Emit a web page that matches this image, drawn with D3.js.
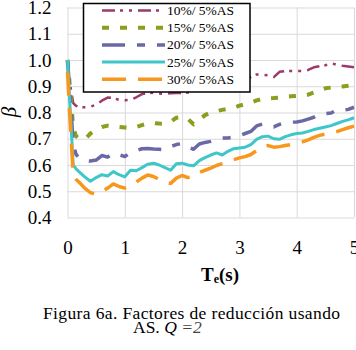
<!DOCTYPE html>
<html>
<head>
<meta charset="utf-8">
<script src="https://cdn.jsdelivr.net/npm/d3@7"></script>
<style>
  body { margin: 0; background: #fff; }
  svg text { font-family: "Liberation Serif", "Times New Roman", serif; }
</style>
</head>
<body>
<div id="chart"></div>
<script>
// periodo Te (s)
var periods = [0, 0.05, 0.1, 0.15, 0.2, 0.3, 0.4, 0.5, 0.6, 0.7, 0.8, 0.9, 1.0,
    1.1, 1.2, 1.3, 1.4, 1.5, 1.6, 1.7, 1.8, 1.9, 2.0, 2.1, 2.2, 2.3, 2.4, 2.5,
    2.6, 2.7, 2.8, 2.9, 3.0, 3.1, 3.2, 3.3, 3.4, 3.5, 3.6, 3.7, 3.8, 3.9, 4.0,
    4.1, 4.2, 4.3, 4.4, 4.5, 4.6, 4.7, 4.8, 4.9, 5.0];

var seriesNames = ["10%/ 5%AS", "15%/ 5%AS", "20%/ 5%AS", "25%/ 5%AS", "30%/ 5%AS"];

var beta10 = [1.0, 0.9, 0.836, 0.825, 0.821, 0.82, 0.822, 0.83, 0.845, 0.857, 0.855, 0.848, 0.847,
    0.848, 0.858, 0.87, 0.874, 0.875, 0.872, 0.871, 0.873, 0.874, 0.874, 0.876, 0.88, 0.886, 0.892, 0.898,
    0.903, 0.908, 0.914, 0.92, 0.925, 0.93, 0.935, 0.945, 0.944, 0.942, 0.935, 0.955, 0.958, 0.958, 0.958,
    0.958, 0.962, 0.972, 0.976, 0.98, 0.988, 0.982, 0.978, 0.975, 0.972];
var beta15 = [1.0, 0.88, 0.74, 0.71, 0.70, 0.697, 0.72, 0.735, 0.745, 0.75, 0.748, 0.745, 0.743,
    0.742, 0.745, 0.752, 0.758, 0.76, 0.758, 0.757, 0.765, 0.78, 0.783, 0.776, 0.755, 0.772, 0.79, 0.80,
    0.805, 0.81, 0.814, 0.818, 0.826, 0.832, 0.838, 0.846, 0.852, 0.854, 0.855, 0.857, 0.86, 0.862, 0.863,
    0.865, 0.868, 0.876, 0.885, 0.892, 0.895, 0.897, 0.899, 0.902, 0.905];
var beta20 = [1.0, 0.85, 0.68, 0.64, 0.627, 0.617, 0.615, 0.619, 0.636, 0.63, 0.645, 0.64, 0.632,
    0.648, 0.655, 0.662, 0.663, 0.661, 0.66, 0.658, 0.67, 0.678, 0.682, 0.668, 0.66, 0.68, 0.686, 0.69,
    0.697, 0.703, 0.703, 0.706, 0.712, 0.72, 0.728, 0.749, 0.756, 0.752, 0.745, 0.755, 0.762, 0.763, 0.764,
    0.768, 0.775, 0.782, 0.794, 0.796, 0.798, 0.81, 0.808, 0.812, 0.82];
var beta25 = [1.0, 0.80, 0.60, 0.585, 0.575, 0.555, 0.538, 0.552, 0.563, 0.558, 0.575, 0.563, 0.555,
    0.58, 0.578, 0.59, 0.603, 0.607, 0.60, 0.59, 0.58, 0.605, 0.607, 0.60, 0.597, 0.617, 0.628, 0.638,
    0.646, 0.638, 0.652, 0.662, 0.665, 0.668, 0.678, 0.698, 0.708, 0.71, 0.70, 0.698, 0.708, 0.715, 0.72,
    0.722, 0.728, 0.735, 0.74, 0.745, 0.75, 0.758, 0.766, 0.772, 0.78];
var beta30 = [0.955, 0.75, 0.56, 0.545, 0.535, 0.512, 0.495, 0.488, 0.50, 0.512, 0.528, 0.518, 0.512,
    0.52, 0.535, 0.55, 0.562, 0.556, 0.545, 0.532, 0.53, 0.55, 0.56, 0.552, 0.555, 0.572, 0.58, 0.588,
    0.598, 0.605, 0.612, 0.62, 0.627, 0.632, 0.64, 0.655, 0.67, 0.674, 0.668, 0.67, 0.674, 0.678, 0.682,
    0.688, 0.696, 0.705, 0.713, 0.718, 0.722, 0.727, 0.735, 0.742, 0.748];

var xTicks = [0, 1, 2, 3, 4, 5];
var yTicks = [0.4, 0.5, 0.6, 0.7, 0.8, 0.9, 1.0, 1.1, 1.2];

var allBeta = [beta10, beta15, beta20, beta25, beta30];
var colors = ["#9b3a6b", "#8e9d20", "#6a69a6", "#3ec6c8", "#f7981d"];
var widths = [2.5, 4, 3.5, 3, 3.5];
var dashes = ["13,5,3,6,3,6", "7,11", "23,12,8,12", null, "24,12"];

function drawChart() {
    var width = 356;
    var height = 350;

    var svg = d3.select("#chart")
        .append("svg")
        .attr("width", width)
        .attr("height", height);

    var xscale = d3.scaleLinear()
        .domain([0, 5])
        .range([67.5, 354]);
    var yscale = d3.scaleLinear()
        .domain([0.4, 1.2])
        .range([217.5, 7.5]);

    // rejilla
    var x_axis = d3.axisBottom(xscale)
        .tickValues(xTicks)
        .tickSize(-(217.5 - 7.5))
        .tickFormat(d3.format("d"))
        .tickPadding(23);
    var y_axis = d3.axisLeft(yscale)
        .tickValues(yTicks)
        .tickSize(-(354 - 67.5))
        .tickFormat(d3.format(".1f"))
        .tickPadding(16);

    var gx = svg.append("g")
        .attr("transform", "translate(0," + 217.5 + ")")
        .call(x_axis);
    var gy = svg.append("g")
        .attr("transform", "translate(" + 67.5 + ",0)")
        .call(y_axis);

    [gx, gy].forEach(function (g) {
        g.select(".domain").remove();
        g.selectAll(".tick line").attr("stroke", "#d9d9d9").attr("stroke-width", 1);
        g.selectAll(".tick text")
            .attr("fill", "#000")
            .style("font-family", "'Liberation Serif', serif")
            .style("font-size", "19px");
    });

    // curvas
    var line = d3.line()
        .x(function (d, i) { return xscale(periods[i]); })
        .y(function (d) { return yscale(d); });

    allBeta.forEach(function (vals, k) {
        svg.append("path")
            .datum(vals)
            .attr("d", line)
            .attr("fill", "none")
            .attr("stroke", colors[k])
            .attr("stroke-width", widths[k])
            .attr("stroke-dasharray", dashes[k])
            .attr("stroke-linejoin", "round");
    });

    // leyenda
    var legend = svg.append("g");
    legend.append("rect")
        .attr("x", 83.5)
        .attr("y", 3.5)
        .attr("width", 166.5)
        .attr("height", 88.5)
        .attr("fill", "#fff")
        .attr("stroke", "#000")
        .attr("stroke-width", 1.5);

    seriesNames.forEach(function (name, k) {
        var ly = 10.5 + k * 17.2;
        legend.append("line")
            .attr("x1", 102)
            .attr("x2", 165)
            .attr("y1", ly)
            .attr("y2", ly)
            .attr("stroke", colors[k])
            .attr("stroke-width", widths[k])
            .attr("stroke-dasharray", dashes[k]);
        legend.append("text")
            .attr("x", 167)
            .attr("y", ly + 4.5)
            .style("font-size", "13.5px")
            .text(name);
    });

    // titulos de ejes
    var xt = svg.append("text")
        .attr("x", 220)
        .attr("y", 281)
        .attr("text-anchor", "middle")
        .style("font-size", "19px")
        .style("font-weight", "bold");
    xt.append("tspan").text("T");
    xt.append("tspan").style("font-size", "12px").attr("dy", 2).text("e");
    xt.append("tspan").attr("dy", -2).text("(s)");

    svg.append("text")
        .attr("transform", "translate(16,112) rotate(-90)")
        .attr("text-anchor", "middle")
        .style("font-size", "21px")
        .style("font-style", "italic")
        .text("β");

    // pie de figura
    svg.append("text")
        .attr("x", 43)
        .attr("y", 319)
        .attr("textLength", 297)
        .style("font-size", "17.5px")
        .text("Figura 6a. Factores de reducción usando");

    var cap2 = svg.append("text")
        .attr("x", 133)
        .attr("y", 333)
        .style("font-size", "17.5px");
    cap2.append("tspan").text("AS. ");
    cap2.append("tspan").style("font-style", "italic").text("Q");
    cap2.append("tspan").style("font-style", "italic").attr("fill", "#444").text(" =2");
}

window.addEventListener("load", function () {
    drawChart();
});
</script>
</body>
</html>
